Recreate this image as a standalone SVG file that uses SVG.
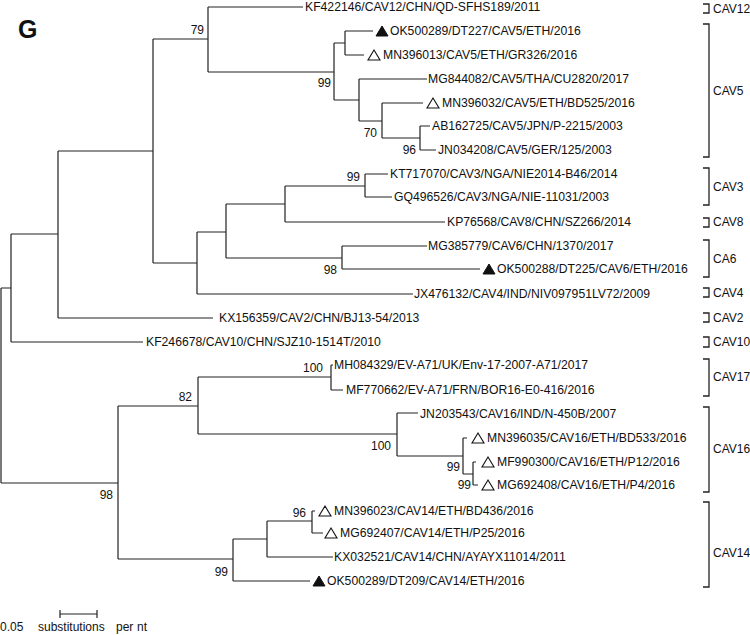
<svg xmlns="http://www.w3.org/2000/svg" xmlns:xlink="http://www.w3.org/1999/xlink" width="750" height="635" viewBox="0 0 750 635">
<style>
  .br { fill: none; stroke: #222; stroke-width: 1.2; }
  .bk { fill: none; stroke: #222; stroke-width: 1.3; }
  text { font-family: "Liberation Sans", Arial, sans-serif; font-size: 12px; fill: #111; }
  .leaf text { font-size: 12.2px; }
  .sup { text-anchor: end; }
  .open { fill: #fff; stroke: #111; stroke-width: 1.1; }
  .fill { fill: #111; stroke: #111; stroke-width: 1; }
</style>
<defs>
  <path id="tri" d="M0,5 L12,5 L6,-5 Z"/>
</defs>
<rect width="750" height="635" fill="#fff"/>
<text x="18" y="38" style="font-size:25px;font-weight:bold;font-family:'Liberation Sans',Arial,sans-serif">G</text>

<g id="connectors">
  <path class="br" d="M1,288 V483 M1,288 H11 M1,483 H118"/>
  <path class="br" d="M11,234 V342 M11,234 H58 M11,342 H143"/>
  <path class="br" d="M58,151 V318 M58,151 H153 M58,318 H213"/>
  <path class="br" d="M153,39 V263 M153,39 H208 M153,263 H197"/>
  <path class="br" d="M208,7 V72 M208,7 H303 M208,72 H334"/>
  <path class="br" d="M334,43 V100 M334,43 H345 M334,100 H359"/>
  <path class="br" d="M345,31 V55 M345,31 H373 M345,55 H364"/>
  <path class="br" d="M359,79 V121 M359,79 H427 M359,121 H382"/>
  <path class="br" d="M382,103 V138 M382,103 H423 M382,138 H420"/>
  <path class="br" d="M420,126 V150 M420,126 H430 M420,150 H436"/>
  <path class="br" d="M197,232 V294 M197,232 H226 M197,294 H413"/>
  <path class="br" d="M226,204 V258 M226,204 H285 M226,258 H342"/>
  <path class="br" d="M285,186 V222 M285,186 H365 M285,222 H445"/>
  <path class="br" d="M365,174 V197 M365,174 H388 M365,197 H392"/>
  <path class="br" d="M342,246 V269 M342,246 H427 M342,269 H480"/>
  <path class="br" d="M118,406 V559 M118,406 H198 M118,559 H233"/>
  <path class="br" d="M198,377 V434 M198,377 H331 M198,434 H397"/>
  <path class="br" d="M331,365 V390 M331,365 H333 M331,390 H343"/>
  <path class="br" d="M397,413 V456 M397,413 H418 M397,456 H463"/>
  <path class="br" d="M463,438 V474 M463,438 H467 M463,474 H473"/>
  <path class="br" d="M473,462 V485 M473,462 H476 M473,485 H478"/>
  <path class="br" d="M233,539 V581 M233,539 H267 M233,581 H310"/>
  <path class="br" d="M267,521 V557 M267,521 H312 M267,557 H333"/>
  <path class="br" d="M312,511 V533 M312,511 H315 M312,533 H323"/>
</g>

<g id="support">
  <g id="n-D"><text class="sup" x="204" y="34">79</text></g>
  <g id="n-E"><text class="sup" x="331" y="87">99</text></g>
  <g id="n-H"><text class="sup" x="377" y="137">70</text></g>
  <g id="n-I"><text class="sup" x="416" y="154">96</text></g>
  <g id="n-M"><text class="sup" x="360" y="181">99</text></g>
  <g id="n-N"><text class="sup" x="337" y="274">98</text></g>
  <g id="n-R"><text class="sup" x="323" y="372">100</text></g>
  <g id="n-Q"><text class="sup" x="192" y="401">82</text></g>
  <g id="n-P"><text class="sup" x="113" y="499">98</text></g>
  <g id="n-S"><text class="sup" x="391" y="450">100</text></g>
  <g id="n-T"><text class="sup" x="460" y="471">99</text></g>
  <g id="n-U"><text class="sup" x="471" y="489">99</text></g>
  <g id="n-X"><text class="sup" x="306" y="517">96</text></g>
  <g id="n-V"><text class="sup" x="228" y="576">99</text></g>
</g>

<g id="leaves" class="leaf">
  <g id="leaf-KF422146"><text x="305" y="11">KF422146/CAV12/CHN/QD-SFHS189/2011</text></g>
  <g id="leaf-OK500289-DT227"><use xlink:href="#tri" class="fill" x="376" y="31"/><text x="390" y="35">OK500289/DT227/CAV5/ETH/2016</text></g>
  <g id="leaf-MN396013"><use xlink:href="#tri" class="open" x="368" y="55"/><text x="383" y="59">MN396013/CAV5/ETH/GR326/2016</text></g>
  <g id="leaf-MG844082"><text x="428" y="83">MG844082/CAV5/THA/CU2820/2017</text></g>
  <g id="leaf-MN396032"><use xlink:href="#tri" class="open" x="427" y="103"/><text x="442" y="107">MN396032/CAV5/ETH/BD525/2016</text></g>
  <g id="leaf-AB162725"><text x="432" y="130">AB162725/CAV5/JPN/P-2215/2003</text></g>
  <g id="leaf-JN034208"><text x="438" y="154">JN034208/CAV5/GER/125/2003</text></g>
  <g id="leaf-KT717070"><text x="390" y="178">KT717070/CAV3/NGA/NIE2014-B46/2014</text></g>
  <g id="leaf-GQ496526"><text x="394" y="201">GQ496526/CAV3/NGA/NIE-11031/2003</text></g>
  <g id="leaf-KP76568"><text x="447" y="226">KP76568/CAV8/CHN/SZ266/2014</text></g>
  <g id="leaf-MG385779"><text x="428" y="250">MG385779/CAV6/CHN/1370/2017</text></g>
  <g id="leaf-OK500288"><use xlink:href="#tri" class="fill" x="483" y="269"/><text x="497" y="273">OK500288/DT225/CAV6/ETH/2016</text></g>
  <g id="leaf-JX476132"><text x="414" y="298">JX476132/CAV4/IND/NIV097951LV72/2009</text></g>
  <g id="leaf-KX156359"><text x="219" y="322">KX156359/CAV2/CHN/BJ13-54/2013</text></g>
  <g id="leaf-KF246678"><text x="146" y="346">KF246678/CAV10/CHN/SJZ10-1514T/2010</text></g>
  <g id="leaf-MH084329"><text x="334" y="369">MH084329/EV-A71/UK/Env-17-2007-A71/2017</text></g>
  <g id="leaf-MF770662"><text x="346" y="394">MF770662/EV-A71/FRN/BOR16-E0-416/2016</text></g>
  <g id="leaf-JN203543"><text x="420" y="418">JN203543/CAV16/IND/N-450B/2007</text></g>
  <g id="leaf-MN396035"><use xlink:href="#tri" class="open" x="472" y="438"/><text x="487" y="442">MN396035/CAV16/ETH/BD533/2016</text></g>
  <g id="leaf-MF990300"><use xlink:href="#tri" class="open" x="482" y="462"/><text x="497" y="466">MF990300/CAV16/ETH/P12/2016</text></g>
  <g id="leaf-MG692408"><use xlink:href="#tri" class="open" x="482" y="485"/><text x="497" y="489">MG692408/CAV16/ETH/P4/2016</text></g>
  <g id="leaf-MN396023"><use xlink:href="#tri" class="open" x="319" y="511"/><text x="334" y="515">MN396023/CAV14/ETH/BD436/2016</text></g>
  <g id="leaf-MG692407"><use xlink:href="#tri" class="open" x="325" y="533"/><text x="340" y="537">MG692407/CAV14/ETH/P25/2016</text></g>
  <g id="leaf-KX032521"><text x="334" y="561">KX032521/CAV14/CHN/AYAYX11014/2011</text></g>
  <g id="leaf-OK500289-DT209"><use xlink:href="#tri" class="fill" x="313" y="581"/><text x="327" y="585">OK500289/DT209/CAV14/ETH/2016</text></g>
</g>

<g id="clades">
  <g id="clade-CAV12"><path class="bk" d="M703,4 H709 V13 H703"/><text x="713" y="13">CAV12</text></g>
  <g id="clade-CAV5"><path class="bk" d="M703,24 H709 V157 H703"/><text x="713" y="95">CAV5</text></g>
  <g id="clade-CAV3"><path class="bk" d="M703,168 H709 V205 H703"/><text x="713" y="191">CAV3</text></g>
  <g id="clade-CAV8"><path class="bk" d="M703,218 H709 V227 H703"/><text x="713" y="226">CAV8</text></g>
  <g id="clade-CA6"><path class="bk" d="M703,240 H709 V277 H703"/><text x="713" y="263">CA6</text></g>
  <g id="clade-CAV4"><path class="bk" d="M703,288 H709 V297 H703"/><text x="713" y="297">CAV4</text></g>
  <g id="clade-CAV2"><path class="bk" d="M703,313 H709 V322 H703"/><text x="713" y="322">CAV2</text></g>
  <g id="clade-CAV10"><path class="bk" d="M703,337 H709 V347 H703"/><text x="713" y="346">CAV10</text></g>
  <g id="clade-CAV17"><path class="bk" d="M703,359 H709 V396 H703"/><text x="713" y="381">CAV17</text></g>
  <g id="clade-CAV16"><path class="bk" d="M703,407 H709 V492 H703"/><text x="713" y="453">CAV16</text></g>
  <g id="clade-CAV14"><path class="bk" d="M703,502 H709 V587 H703"/><text x="713" y="557">CAV14</text></g>
</g>

<g id="scale-bar">
  <path class="br" d="M60,614 H97 M60,610 V618 M97,610 V618"/>
  <text y="631"><tspan x="0">0.05</tspan><tspan x="38">substitutions</tspan><tspan x="116">per</tspan><tspan x="137">nt</tspan></text>
</g>
</svg>
